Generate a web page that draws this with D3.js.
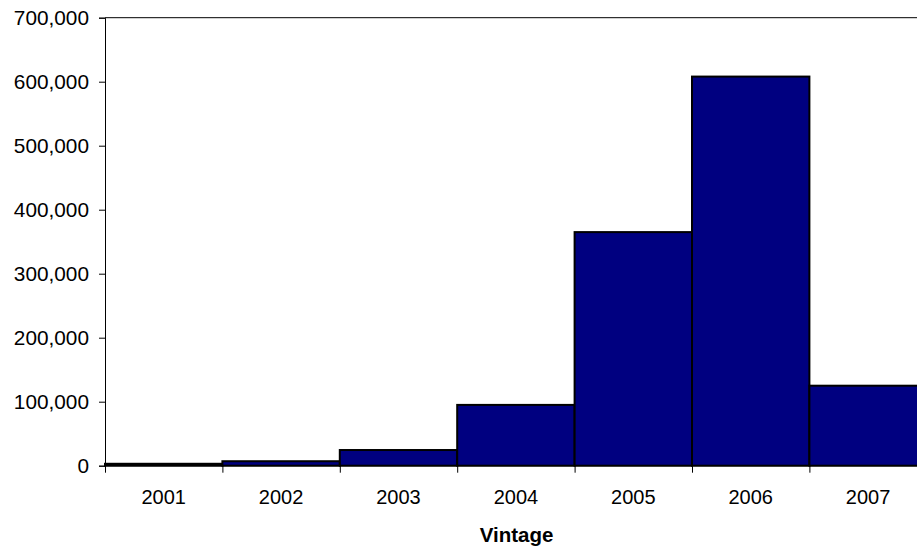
<!DOCTYPE html>
<html>
<head>
<meta charset="utf-8">
<script src="https://cdn.jsdelivr.net/npm/d3@7"></script>
<style>
  body { margin: 0; background: #fff; }
  text { font-family: "Liberation Sans", Arial, sans-serif; }
</style>
</head>
<body>
<svg id="main"></svg>
<script>
// values
const vintages = ['2001', '2002', '2003', '2004', '2005', '2006', '2007'];
const counts = [3000, 7000, 24500, 95000, 365000, 608000, 125000];
const yTicks = [0, 100000, 200000, 300000, 400000, 500000, 600000, 700000];

let width = 917,
  height = 547;

const svg = d3.select('#main')
  .attr('width', width)
  .attr('height', height);

// plot area runs off the right edge of the picture
const x = d3.scaleBand()
  .domain(vintages)
  .range([105, 926.8])
  .padding(0);

const y = d3.scaleLinear()
  .domain([0, 700000])
  .range([465.7, 17.7]);

// top border of the plot area
svg.append('line')
  .attr('x1', x.range()[0])
  .attr('x2', width)
  .attr('y1', y(700000))
  .attr('y2', y(700000))
  .attr('stroke', '#000')
  .attr('stroke-width', 1);

svg.selectAll('.bar')
  .data(vintages)
  .enter()
  .append('rect')
  .attr('class', 'bar')
  .attr('x', d => x(d))
  .attr('y', (d, i) => y(counts[i]))
  .attr('width', x.bandwidth())
  .attr('height', (d, i) => y(0) - y(counts[i]))
  .attr('fill', '#000080')
  .attr('stroke', '#000')
  .attr('stroke-width', 2);

// y axis
const yAxis = svg.append('g')
  .attr('transform', `translate(${x.range()[0]},0)`)
  .call(d3.axisLeft(y)
    .tickValues(yTicks)
    .tickFormat(d3.format(','))
    .tickSize(6)
    .tickPadding(10));
yAxis.select('.domain').attr('stroke', '#000');
yAxis.selectAll('.tick line').attr('stroke', '#000');
yAxis.selectAll('text')
  .attr('font-size', '20.8px')
  .attr('font-family', '"Liberation Sans", Arial, sans-serif')
  .attr('fill', '#000');

// x axis: ticks sit on band boundaries, labels in the middle
const xAxis = svg.append('g')
  .attr('transform', `translate(0,${y(0)})`);
xAxis.append('line')
  .attr('x1', x.range()[0])
  .attr('x2', width)
  .attr('stroke', '#000');
xAxis.selectAll('.xtick')
  .data(vintages)
  .enter()
  .append('line')
  .attr('class', 'xtick')
  .attr('x1', d => x(d) + 0.5)
  .attr('x2', d => x(d) + 0.5)
  .attr('y1', 0)
  .attr('y2', 7)
  .attr('stroke', '#000');
xAxis.selectAll('.xlabel')
  .data(vintages)
  .enter()
  .append('text')
  .attr('class', 'xlabel')
  .text(d => d)
  .attr('x', d => x(d) + x.bandwidth() / 2)
  .attr('y', 38.5)
  .attr('text-anchor', 'middle')
  .attr('font-size', '20px')
  .attr('fill', '#000');

svg.append('text')
  .text('Vintage')
  .attr('x', 516.5)
  .attr('y', 542)
  .attr('text-anchor', 'middle')
  .attr('font-size', '20.5px')
  .attr('font-weight', 'bold')
  .attr('fill', '#000');
</script>
</body>
</html>
